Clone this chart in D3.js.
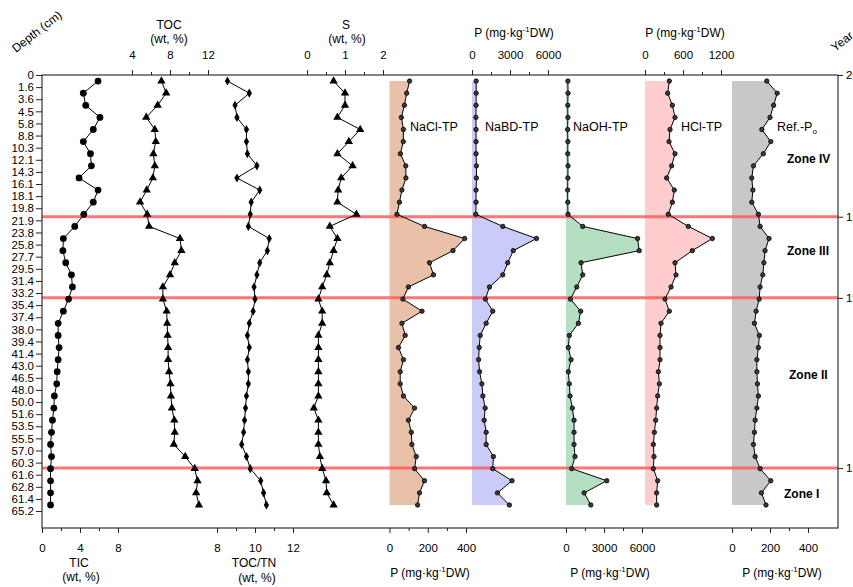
<!DOCTYPE html>
<html><head><meta charset="utf-8">
<script src="https://cdn.jsdelivr.net/npm/d3@7"></script>
<style>
html,body{margin:0;padding:0;background:#fff;overflow:hidden;width:853px;height:587px;}
svg{display:block;}
</style></head><body>
<svg id="chart" width="853" height="587"></svg>
<script>
// ---------- DATA ----------
const depthLabels = ["0","1.6","3.6","4.5","5.8","8.8","10.3","12.1","14.3","16.1","18.1","19.8",
  "21.9","23.8","25.8","27.7","29.5","31.4","33.2","35.4","37.4","38.0","39.4","41.4","43.0","46.5",
  "48.0","50.0","51.6","53.5","55.5","57.0","60.3","61.6","62.8","61.4","65.2"];
const yearLabels = ["2012","1990","1960","1900"];
const zoneBoundaries = [11.7, 18.4, 32.45];   // in depth-label index units
const zoneNames = ["Zone IV","Zone III","Zone II","Zone I"];

const TIC   = [5.9,4.35,4.6,6.1,5.4,4.35,5.1,5.2,3.9,5.9,5.4,4.4,3.45,2.25,2.2,2.5,3.1,3.2,2.8,2.25,1.7,1.7,1.8,1.7,1.6,1.55,1.3,1.25,1.1,1.0,0.9,1.0,0.9,0.9,0.9,0.9];
const TOC   = [7.1,7.6,6.7,5.5,6.4,6.5,6.25,6.4,6.2,5.55,4.85,5.6,5.8,9.05,9.2,8.5,8.0,7.25,7.25,7.65,7.7,7.75,7.8,7.8,7.9,8.05,8.1,8.2,8.45,8.5,8.4,9.6,10.6,10.9,10.75,11.05];
const TOCTN = [8.55,9.7,8.95,9.05,9.55,9.55,9.6,10.1,9.05,10.25,9.8,9.75,9.65,10.75,10.65,10.25,10.1,9.95,10.0,9.9,9.7,9.6,9.7,9.6,9.65,9.65,9.55,9.5,9.45,9.4,9.3,9.55,9.75,10.3,10.45,10.6];
const S     = [0.7,1.0,1.0,0.8,1.4,1.1,0.8,1.2,0.9,0.82,0.8,1.3,0.6,0.8,0.7,0.6,0.52,0.4,0.3,0.4,0.4,0.3,0.3,0.3,0.3,0.3,0.3,0.18,0.3,0.3,0.3,0.34,0.4,0.5,0.52,0.7];
const NaCl  = [105,90,78,62,73,72,57,85,86,65,52,39,183,393,332,209,230,99,70,170,65,82,47,73,56,56,73,131,99,114,117,140,131,183,157,147];
const NaBD  = [330,330,320,310,320,320,320,350,350,320,320,300,2430,5090,3260,2820,2430,1380,1060,1640,1120,650,570,520,600,780,860,1040,960,1120,1120,1690,1640,3160,2010,2950];
const NaOH  = [150,160,140,150,130,150,140,160,150,130,140,160,1320,5650,5780,1190,1320,850,350,1160,980,265,185,400,185,265,320,500,635,635,635,710,450,3220,1430,1960];
const HCl   = [384,358,432,474,395,379,474,421,342,463,432,368,684,1063,747,474,490,411,316,384,253,237,237,237,211,227,200,184,169,148,132,142,132,200,184,184];
const RefP  = [183,238,219,200,157,204,165,113,104,110,104,139,148,195,174,168,162,148,143,127,118,144,139,131,131,134,139,131,122,118,113,122,148,204,155,179];

const ticTicks = [0,2,4,6,8],            ticLabels = [0,4,8];
const tocTicks = [4,6,8,10,12],          tocLabels = [4,8,12];
const tntTicks = [8,9,10,11,12],         tntLabels = [8,10,12];
const sTicks   = [0,0.5,1,1.5,2],        sLabels   = [0,1,2];
const p400Ticks = [0,100,200,300,400],   p400Labels = [0,200,400];
const p6000Ticks = [0,1500,3000,4500,6000], p6000Labels = [0,3000,6000];
const p1200Ticks = [0,300,600,900,1200], p1200Labels = [0,600,1200];

// ---------- LAYOUT ----------
const FONT = '"Liberation Sans", Arial, Helvetica, sans-serif';
const L = 42, R = 838, T = 75, B = 528;
const svg = d3.select("#chart").attr("font-family", FONT);
const y = d3.scaleLinear().domain([0, 37.4]).range([T, B]);
const sy = i => y(i + 0.5);

const panels = [
  {data:TIC,   x:d3.scaleLinear().domain([0,8]).range([42,118]),     side:"bottom", ticks:ticTicks,  labels:ticLabels,  marker:"bigcircle"},
  {data:TOC,   x:d3.scaleLinear().domain([4,12]).range([132,208]),   side:"top",    ticks:tocTicks,  labels:tocLabels,  marker:"triangle"},
  {data:TOCTN, x:d3.scaleLinear().domain([8,12]).range([217,293]),   side:"bottom", ticks:tntTicks,  labels:tntLabels,  marker:"diamond"},
  {data:S,     x:d3.scaleLinear().domain([0,2]).range([307,383]),    side:"top",    ticks:sTicks,    labels:sLabels,    marker:"triangle"},
  {data:NaCl,  x:d3.scaleLinear().domain([0,400]).range([389.5,466]),side:"bottom", ticks:p400Ticks, labels:p400Labels, marker:"small", fill:"#e9c1a9"},
  {data:NaBD,  x:d3.scaleLinear().domain([0,6000]).range([472,548]), side:"top",    ticks:p6000Ticks,labels:p6000Labels,marker:"small", fill:"#cbcbfa"},
  {data:NaOH,  x:d3.scaleLinear().domain([0,6000]).range([566,642]), side:"bottom", ticks:p6000Ticks,labels:p6000Labels,marker:"small", fill:"#b4dfc3"},
  {data:HCl,   x:d3.scaleLinear().domain([0,1200]).range([645,721]), side:"top",    ticks:p1200Ticks,labels:p1200Labels,marker:"small", fill:"#ffcdcd"},
  {data:RefP,  x:d3.scaleLinear().domain([0,400]).range([732,808]),  side:"bottom", ticks:p400Ticks, labels:p400Labels, marker:"small", fill:"#c8c8c8"}
];

// fills
const gFill = svg.append("g");
panels.filter(p => p.fill).forEach(p => {
  const area = d3.area().y((d,i) => sy(i)).x0(p.x(0)).x1(d => p.x(d));
  gFill.append("path").attr("d", area(p.data)).attr("fill", p.fill);
});

// zone boundary lines
svg.append("g").selectAll("line").data(zoneBoundaries).join("line")
  .attr("x1", L).attr("x2", R).attr("y1", d => y(d)).attr("y2", d => y(d))
  .attr("stroke", "#ff5c5c").attr("stroke-opacity", 0.85).attr("stroke-width", 3);

// frame
svg.append("rect").attr("x", L).attr("y", T).attr("width", R-L).attr("height", B-T)
  .attr("fill", "none").attr("stroke", "#222").attr("stroke-width", 1.1);

// left depth axis
const gl = svg.append("g").attr("transform", `translate(${L},0)`)
  .call(d3.axisLeft(y).tickValues(d3.range(depthLabels.length)).tickFormat((d,i) => depthLabels[i]).tickSize(6).tickPadding(2));
gl.select(".domain").remove();
gl.attr("font-family", FONT).attr("font-size", 11.5);
gl.selectAll(".tick line").attr("stroke", "#222");
gl.selectAll(".tick text").attr("fill", "#000");

// right year axis (labels run off the right edge, as in the original)
const yearPos = [0].concat(zoneBoundaries);
const gr = svg.append("g").attr("transform", `translate(${R},0)`)
  .call(d3.axisRight(y).tickValues(yearPos).tickFormat((d,i) => yearLabels[i]).tickSize(5).tickPadding(3));
gr.select(".domain").remove();
gr.attr("font-family", FONT).attr("font-size", 11.5);
gr.selectAll(".tick line").attr("stroke", "#222");
gr.selectAll(".tick text").attr("fill", "#000");

// panel axes
panels.forEach(p => {
  const top = p.side === "top";
  const g = svg.append("g").attr("transform", `translate(0,${top ? T : B})`)
    .call((top ? d3.axisTop : d3.axisBottom)(p.x).tickValues(p.ticks).tickSize(5).tickPadding(11)
      .tickFormat(d => p.labels.includes(d) ? String(d) : ""));
  g.select(".domain").remove();
  g.attr("font-family", FONT).attr("font-size", 11.5);
  g.selectAll(".tick line").attr("stroke", "#222")
    .attr("y2", d => (p.labels.includes(d) ? 5 : 3) * (top ? -1 : 1));
  g.selectAll(".tick text").attr("fill", "#000");
});

// lines + markers
const symbols = {
  bigcircle: d3.symbol().type(d3.symbolCircle).size(36),
  triangle:  d3.symbol().type(d3.symbolTriangle).size(30),
  diamond:   d3.symbol().type(d3.symbolDiamond).size(24),
};
panels.forEach(p => {
  const line = d3.line().x(d => p.x(d)).y((d,i) => sy(i));
  svg.append("path").attr("d", line(p.data)).attr("fill", "none").attr("stroke", "#000").attr("stroke-width", 1);
  const g = svg.append("g");
  if (p.marker === "small") {
    g.selectAll("circle").data(p.data).join("circle")
      .attr("cx", d => p.x(d)).attr("cy", (d,i) => sy(i)).attr("r", 2.2)
      .attr("fill", "#3a3a3a").attr("stroke", "#000").attr("stroke-width", 0.8);
  } else {
    g.selectAll("path").data(p.data).join("path")
      .attr("d", symbols[p.marker]())
      .attr("transform", (d,i) => `translate(${p.x(d)},${sy(i)})`)
      .attr("fill", "#000");
  }
});

// ---------- TEXT ----------
function txt(x, yy, s, opts = {}) {
  return svg.append("text").attr("x", x).attr("y", yy).text(s)
    .attr("font-size", opts.size || 12).attr("text-anchor", opts.anchor || "middle")
    .attr("font-weight", opts.weight || "normal").attr("fill", "#000");
}
function pUnit(x, yy) {
  const t = svg.append("text").attr("x", x).attr("y", yy).attr("font-size", 12)
    .attr("text-anchor", "middle").attr("fill", "#000");
  t.append("tspan").text("P (mg·kg");
  t.append("tspan").text("-1").attr("font-size", 8).attr("dy", -5);
  t.append("tspan").text("DW)").attr("dy", 5);
}

// top titles
txt(169, 29, "TOC"); txt(169, 43, "(wt, %)");
txt(346, 29, "S");   txt(347, 43, "(wt, %)");
pUnit(514, 37); pUnit(685, 37);
// bottom titles
txt(79, 567, "TIC"); txt(81, 581, "(wt, %)");
txt(254, 567, "TOC/TN"); txt(257, 582, "(wt, %)");
pUnit(430, 577); pUnit(610, 577); pUnit(782, 577);

// rotated axis titles
svg.append("text").attr("transform", "translate(16,53) rotate(-38)").attr("font-size", 12).attr("fill", "#000").text("Depth (cm)");
svg.append("text").attr("transform", "translate(835,52) rotate(-38)").attr("font-size", 12).attr("fill", "#000").text("Year");

// panel labels
const panelLabelX = [410, 485, 573, 681];
["NaCl-TP","NaBD-TP","NaOH-TP","HCl-TP"].forEach((s,i) => txt(panelLabelX[i], 131, s, {anchor:"start", size:12.5}));
const ref = svg.append("text").attr("x", 777).attr("y", 131).attr("font-size", 12.5).attr("fill", "#000");
ref.append("tspan").text("Ref.-P");
ref.append("tspan").text("o").attr("font-size", 8).attr("dy", 3);

// zone labels
const zoneLabelX = [787, 787, 789, 784], zoneLabelY = [163, 255, 379, 498];
zoneNames.forEach((s,i) => txt(zoneLabelX[i], zoneLabelY[i], s, {anchor:"start", weight:"bold", size:12}));
</script>
</body></html>
